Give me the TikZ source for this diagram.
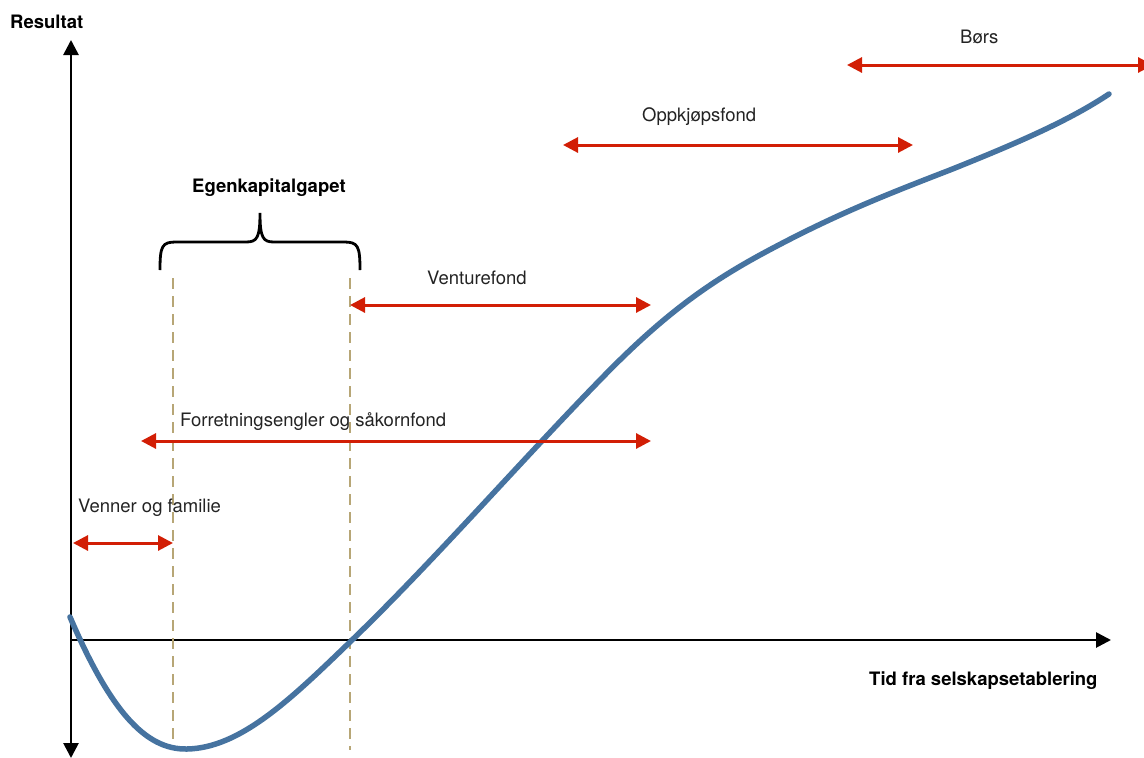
\documentclass[tikz,border=0pt]{standalone}
\usepackage{fontspec}
\setmainfont{TeX Gyre Heros}
\usetikzlibrary{arrows.meta}
\definecolor{kurveblaa}{RGB}{70,115,160}
\definecolor{pilrod}{RGB}{210,30,5}
\definecolor{gapbrun}{RGB}{183,166,118}
\definecolor{tekstgraa}{RGB}{35,35,35}
\tikzset{
	akse/.style={line width=2.7pt, {Triangle[length=15pt,width=15pt]}-{Triangle[length=15pt,width=15pt]}},
	fase/.style={line width=3pt, pilrod, {Triangle[length=15pt,width=15pt]}-{Triangle[length=15pt,width=15pt]}},
	gapgrense/.style={line width=2.3pt, gapbrun, dash pattern=on 11pt off 7pt},
	etikett/.style={inner sep=0pt, anchor=base west, text=tekstgraa, font=\fontsize{18.5}{22}\selectfont},
	tittel/.style={inner sep=0pt, anchor=base west, font=\fontsize{18.5}{22}\selectfont\bfseries}
}
\begin{document}
\begin{tikzpicture}[x=1pt,y=-1pt]
	\useasboundingbox (0,0) rectangle (1144,758);
	
	% akser
	\coordinate (origo) at (71,640);
	\draw [akse] (71,758) -- (71,40);
	\draw [line width=2.7pt, -{Triangle[length=15pt,width=15pt]}] (origo) -- (1111,640);
	\node [tittel] (resultat) at (10,28) {Resultat};
	\node [tittel] (tid) at (869,685) {Tid fra selskapsetablering};
	
	% egenkapitalgapet
	\draw [gapgrense] (173,278) -- (173,750);
	\draw [gapgrense] (350,278) -- (350,750);
	\draw [line width=2.8pt] (160,270) .. controls (160,246) and (162,242) .. (176,242) -- (246,242)
		.. controls (257,242) and (260,238) .. (260,213) .. controls (260,238) and (263,242) .. (274,242)
		-- (344,242) .. controls (358,242) and (360,246) .. (360,270);
	\node [tittel] (gap) at (192,192) {Egenkapitalgapet};
	
	% resultatkurve
	\draw [kurveblaa, line width=5.5pt, line cap=round] (70,617)
		.. controls (110,710) and (145,750) .. (187,749)
		.. controls (240,748) and (290,700) .. (350,642)
		.. controls (430,565) and (520,462) .. (600,380)
		.. controls (660,318) and (705,285) .. (760,255)
		.. controls (830,217) and (880,197) .. (950,170)
		.. controls (1020,142) and (1070,120) .. (1109,94);
	
	% finansieringskilder
	\draw [fase] (73,543) -- (173,543);
	\node [etikett] (venner) at (78,512) {Venner og familie};
	\draw [fase] (141,441) -- (651,441);
	\node [etikett] (engler) at (180,426) {Forretningsengler og såkornfond};
	\draw [fase] (350,305) -- (651,305);
	\node [etikett] (venture) at (427,284) {Venturefond};
	\draw [fase] (563,145) -- (913,145);
	\node [etikett] (oppkjop) at (642,121) {Oppkjøpsfond};
	\draw [fase] (847,65) -- (1153,65);
	\node [etikett] (bors) at (960,43) {Børs};
\end{tikzpicture}
\end{document}
